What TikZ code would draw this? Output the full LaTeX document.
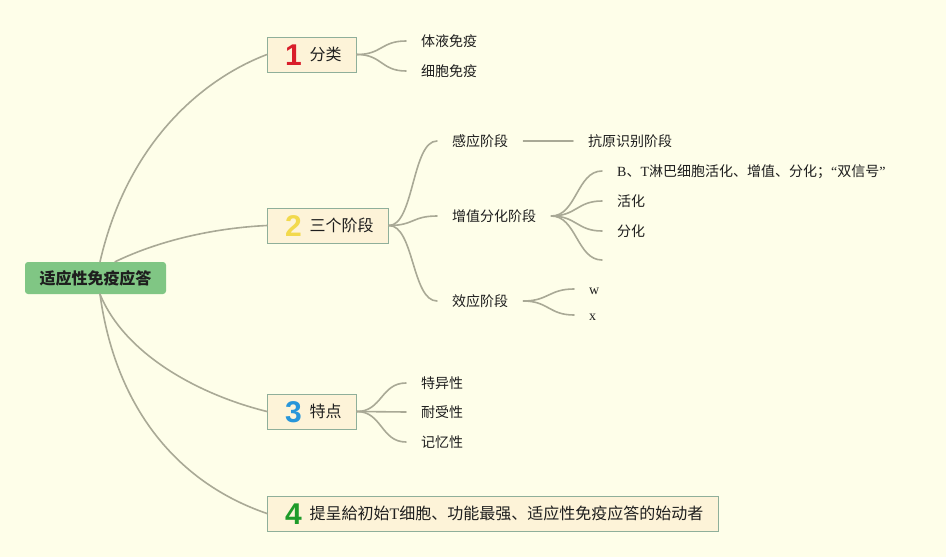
\documentclass[tikz,border=0pt]{standalone}
\usepackage{fontspec}
\setmainfont{Liberation Serif}
\newfontfamily\cjk{Noto Sans CJK SC}
\newfontfamily\numf{Liberation Sans}
\definecolor{bgc}{HTML}{FEFEE9}
\definecolor{boxfill}{HTML}{FDF3D8}
\definecolor{boxdraw}{HTML}{8FAF9A}
\definecolor{rootfill}{HTML}{80C684}
\definecolor{linec}{HTML}{A9A996}
\definecolor{txt}{HTML}{1E1E1E}
\definecolor{numa}{HTML}{D91E2B}
\definecolor{numb}{HTML}{F2D94C}
\definecolor{numc}{HTML}{2896DA}
\definecolor{numd}{HTML}{1E9B2A}
\newcommand{\bignum}[2]{\makebox[22pt][c]{\raisebox{-4.75pt}{\numf\bfseries\fontsize{30pt}{32pt}\selectfont\color{#1}#2}}\hspace{5pt}}
\begin{document}
\begin{tikzpicture}[x=1pt,y=-1pt,
  rootbox/.style={draw=none,fill=rootfill,rounded corners=3pt,minimum width=141pt,minimum height=32pt,
    inner xsep=0pt,inner ysep=0pt,text height=12pt,text depth=0pt,text=txt,
    font=\cjk\bfseries\fontsize{16pt}{18pt}\selectfont},
  topic/.style={draw=boxdraw,line width=1pt,fill=boxfill,minimum height=35pt,inner xsep=15pt,inner ysep=0pt,
    text height=12pt,text depth=0pt,text=txt,anchor=west,font=\cjk\fontsize{16pt}{18pt}\selectfont},
  leaf/.style={inner xsep=15pt,inner ysep=0pt,text height=10.5pt,text depth=0pt,text=txt,
    font=\cjk\fontsize{14pt}{17pt}\selectfont},
  conn/.style={draw=linec,line width=1.6pt,line cap=round}]
\fill[bgc] (0,0) rectangle (946,557);
\useasboundingbox (0,0) rectangle (946,557);

% root
\node[rootbox] (root) at (95.5,278) {适应性免疫应答};

% topics
\node[topic] (t1) at (267,54.5) {\bignum{numa}{1}分类};
\node[topic] (t2) at (267,225.5) {\bignum{numb}{2}三个阶段};
\node[topic] (t3) at (267,411.5) {\bignum{numc}{3}特点};
\node[topic] (t4) at (267,513.5) {\bignum{numd}{4}提呈給初始{\rmfamily T}细胞、功能最强、适应性免疫应答的始动者};

% root branches
\draw[conn] ([xshift=4.5pt]root.north) .. controls (128,140) and (205,78) .. (t1.west);
\draw[conn] ([xshift=19.5pt]root.north) .. controls (160,240) and (215,228) .. (t2.west);
\draw[conn] ([xshift=4.5pt]root.south) .. controls (125,355) and (200,395) .. (t3.west);
\draw[conn] ([xshift=4.5pt]root.south) .. controls (115,405) and (175,482) .. (t4.west);

% topic 1 children
\node[leaf,anchor=west] (a1) at (406,41) {体液免疫};
\node[leaf,anchor=west] (a2) at (406,71) {细胞免疫};
\foreach \c in {a1,a2}
  \draw[conn] (t1.east) .. controls +(25,0) and +(-25,0) .. (\c.west);

% topic 2 children
\node[leaf,anchor=west] (s1) at (437,141) {感应阶段};
\node[leaf,anchor=west] (s2) at (437,216) {增值分化阶段};
\node[leaf,anchor=west] (s3) at (437,301) {效应阶段};
\foreach \c in {s1,s2,s3}
  \draw[conn] (t2.east) .. controls +(25,0) and +(-25,0) .. (\c.west);

\node[leaf,anchor=west] (r1) at (573,141) {抗原识别阶段};
\draw[conn] (s1.east) -- (r1.west);

\node[leaf,anchor=west] (b1) at (602,171) {{\rmfamily B}、{\rmfamily T}淋巴细胞活化、增值、分化；{\rmfamily “}双信号{\rmfamily ”}};
\node[leaf,anchor=west] (b2) at (602,201) {活化};
\node[leaf,anchor=west] (b3) at (602,231) {分化};
\coordinate (b4) at (602,260);
\foreach \c in {b1,b2,b3}
  \draw[conn] (s2.east) .. controls +(25,0) and +(-25,0) .. (\c.west);
\draw[conn] (s2.east) .. controls +(25,0) and +(-25,0) .. (b4);

\node[leaf,anchor=west,font=\rmfamily\fontsize{14pt}{17pt}\selectfont] (w1) at (574,289) {w};
\node[leaf,anchor=west,font=\rmfamily\fontsize{14pt}{17pt}\selectfont] (w2) at (574,315) {x};
\foreach \c in {w1,w2}
  \draw[conn] (s3.east) .. controls +(25,0) and +(-25,0) .. (\c.west);

% topic 3 children
\node[leaf,anchor=west] (c1) at (406,383) {特异性};
\node[leaf,anchor=west] (c2) at (406,412) {耐受性};
\node[leaf,anchor=west] (c3) at (406,442) {记忆性};
\foreach \c in {c1,c2,c3}
  \draw[conn] (t3.east) .. controls +(25,0) and +(-25,0) .. (\c.west);
\end{tikzpicture}
\end{document}
